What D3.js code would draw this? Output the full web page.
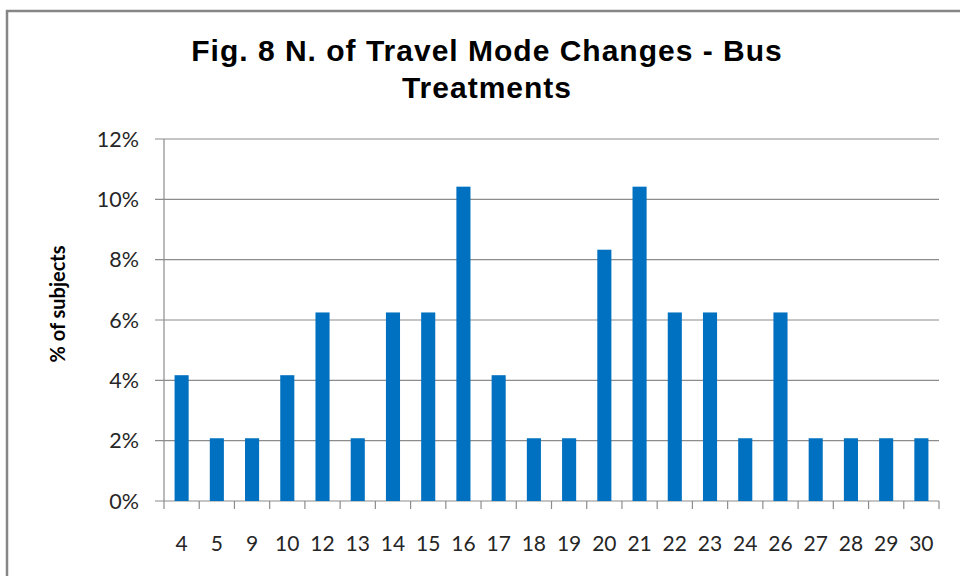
<!DOCTYPE html>
<html>
<head>
<meta charset="utf-8">
<script src="https://cdn.jsdelivr.net/npm/d3@7"></script>
<style>
  body { margin: 0; background: #fff; }
  svg { display: block; }
</style>
</head>
<body>
<div id="chart-area"></div>
<script>
let width = 960,
    height = 576;

// data (48 subjects, so steps of 1/48)
let categories = ["4", "5", "9", "10", "12", "13", "14", "15", "16", "17", "18",
                  "19", "20", "21", "22", "23", "24", "26", "27", "28", "29", "30"];
let shares = [4.17, 2.08, 2.08, 4.17, 6.25, 2.08, 6.25, 6.25, 10.42, 4.17, 2.08,
              2.08, 8.33, 10.42, 6.25, 6.25, 2.08, 6.25, 2.08, 2.08, 2.08, 2.08];
let yTicks = [0, 2, 4, 6, 8, 10, 12];
let titleLines = ["Fig. 8 N. of Travel Mode Changes - Bus", "Treatments"];

let margin = {top: 139, right: 21, bottom: 75, left: 164};

let svg = d3.select("#chart-area").append("svg")
    .attr("width", width)
    .attr("height", height);

// chart frame
svg.append("rect")
    .attr("x", 7)
    .attr("y", 11)
    .attr("width", 980)
    .attr("height", 600)
    .attr("fill", "none")
    .attr("stroke", "#868686")
    .attr("stroke-width", 2.5);

let x = d3.scaleBand()
    .domain(categories)
    .range([margin.left, width - margin.right])
    .paddingInner(0.6)
    .paddingOuter(0.3);

let y = d3.scaleLinear()
    .domain([0, 12])
    .range([height - margin.bottom, margin.top]);

// gridlines
svg.selectAll(".grid")
    .data(yTicks)
    .enter().append("line")
    .attr("class", "grid")
    .attr("x1", margin.left - 9)
    .attr("x2", width - margin.right)
    .attr("y1", d => y(d))
    .attr("y2", d => y(d))
    .style("stroke", "#8c8c8c")
    .style("stroke-width", 1.2);

// y tick labels
svg.selectAll(".ylab")
    .data(yTicks)
    .enter().append("text")
    .attr("class", "ylab")
    .attr("x", margin.left - 25)
    .attr("y", d => y(d))
    .attr("dy", "0.36em")
    .attr("text-anchor", "end")
    .style("font-family", "Lato, 'Open Sans', sans-serif")
    .style("font-size", "21.5px")
    .style("fill", "#262626")
    .text(d => d + "%");

// y axis line
svg.append("line")
    .attr("x1", margin.left).attr("x2", margin.left)
    .attr("y1", y(12)).attr("y2", y(0))
    .style("stroke", "#8c8c8c")
    .style("stroke-width", 1.2);

// x tick marks at band edges
let edges = categories.map(c => x(c) - x.step() * x.paddingInner() / 2);
edges.push(width - margin.right);
svg.selectAll(".xtick")
    .data(edges)
    .enter().append("line")
    .attr("class", "xtick")
    .attr("x1", d => d).attr("x2", d => d)
    .attr("y1", y(0)).attr("y2", y(0) + 8)
    .style("stroke", "#8c8c8c")
    .style("stroke-width", 1.2);

// bars
svg.selectAll(".bar")
    .data(shares)
    .enter().append("rect")
    .attr("class", "bar")
    .attr("x", (d, i) => x(categories[i]))
    .attr("y", d => y(d))
    .attr("width", x.bandwidth())
    .attr("height", d => y(0) - y(d))
    .attr("fill", "#0070c0");

// x labels
svg.selectAll(".xlab")
    .data(categories)
    .enter().append("text")
    .attr("class", "xlab")
    .attr("x", d => x(d) + x.bandwidth() / 2)
    .attr("y", 551)
    .attr("text-anchor", "middle")
    .style("font-family", "Lato, 'Open Sans', sans-serif")
    .style("font-size", "21px")
    .style("fill", "#262626")
    .text(d => d);

// axis title
svg.append("text")
    .attr("transform", "translate(65,304) rotate(-90)")
    .attr("text-anchor", "middle")
    .style("font-family", "Lato, 'Open Sans', sans-serif")
    .style("font-weight", "bold")
    .style("font-size", "20px")
    .style("fill", "#000")
    .text("% of subjects");

// title
svg.selectAll(".title")
    .data(titleLines)
    .enter().append("text")
    .attr("class", "title")
    .attr("x", 487)
    .attr("y", (d, i) => 61 + i * 37)
    .attr("text-anchor", "middle")
    .style("font-family", "'Liberation Sans', Arial, sans-serif")
    .style("font-weight", "bold")
    .style("font-size", "30px")
    .style("letter-spacing", "1px")
    .style("fill", "#000")
    .text(d => d);
</script>
</body>
</html>
